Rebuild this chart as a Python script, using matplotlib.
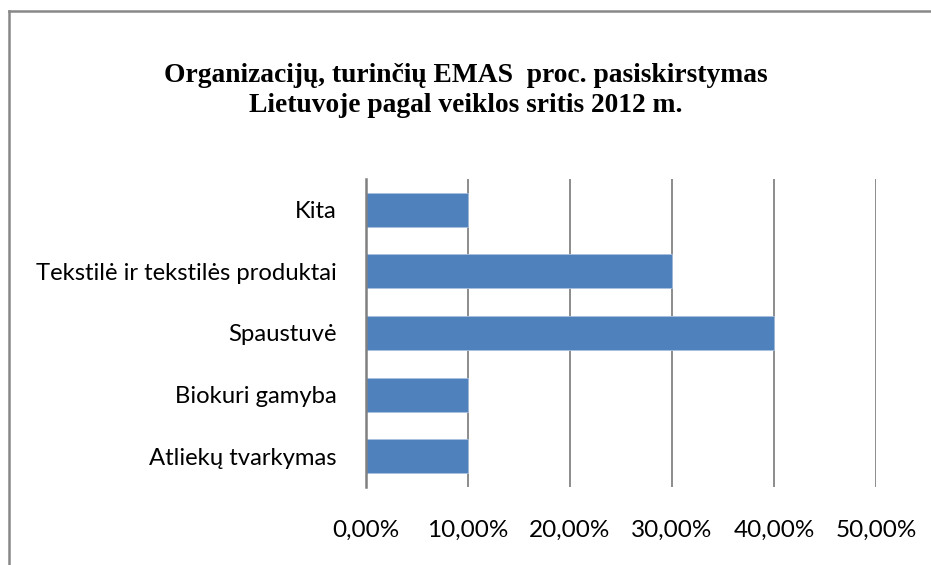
import matplotlib.pyplot as plt
from matplotlib.lines import Line2D
from matplotlib.ticker import FuncFormatter

plt.rcParams['figure.figsize'] = [9.31, 5.65]
plt.rcParams['figure.dpi'] = 100
plt.rcParams['savefig.dpi'] = 100

# Data (bottom to top)
categories = ['Atliekų tvarkymas', 'Biokuri gamyba', 'Spaustuvė',
              'Tekstilė ir tekstilės produktai', 'Kita']
shares = [0.10, 0.10, 0.40, 0.30, 0.10]
x_ticks = [0.0, 0.1, 0.2, 0.3, 0.4, 0.5]

title = 'Organizacijų, turinčių EMAS  proc. pasiskirstymas\nLietuvoje pagal veiklos sritis 2012 m.'

fig = plt.figure()
ax = fig.add_axes([0.3931, 0.1381, 0.5478, 0.5451])

ax.barh(range(len(categories)), shares, height=0.55, color='#4F81BD',
        edgecolor='#A9C0DE', linewidth=0.6, zorder=3)

ax.set_xlim(0, 0.5)
ax.set_ylim(-0.5, len(categories) - 0.5)
ax.set_xticks(x_ticks)
ax.xaxis.set_major_formatter(FuncFormatter(lambda v, p: ('%.2f%%' % (v * 100)).replace('.', ',')))
ax.set_yticks(range(len(categories)))
ax.set_yticklabels(categories)

for lab in ax.get_xticklabels():
    lab.set_fontfamily('Lato')
    lab.set_fontsize(17.5)
for lab in ax.get_yticklabels():
    lab.set_fontfamily('Lato')
    lab.set_fontsize(17.2)

ax.tick_params(axis='x', length=0, pad=24)
ax.tick_params(axis='y', length=0, pad=21)

ax.xaxis.grid(color='#8C8C8C', linewidth=1.4, zorder=1)
ax.set_axisbelow(True)
for sp in ['top', 'right', 'bottom']:
    ax.spines[sp].set_visible(False)
ax.spines['left'].set_color('#808080')
ax.spines['left'].set_linewidth(1.8)
ax.spines['left'].set_zorder(4)

fig.text(0.5, 0.84, title, ha='center', va='center', family='Liberation Serif',
         fontweight='bold', fontsize=19.8, linespacing=1.25)

# chart frame (left and top edges visible)
fig.add_artist(Line2D([8.5 / 931, 8.5 / 931], [0, 1 - 11 / 565], color='#888888', linewidth=1.8))
fig.add_artist(Line2D([8.5 / 931, 1], [1 - 11 / 565, 1 - 11 / 565], color='#888888', linewidth=1.8))

plt.savefig('out.png')
